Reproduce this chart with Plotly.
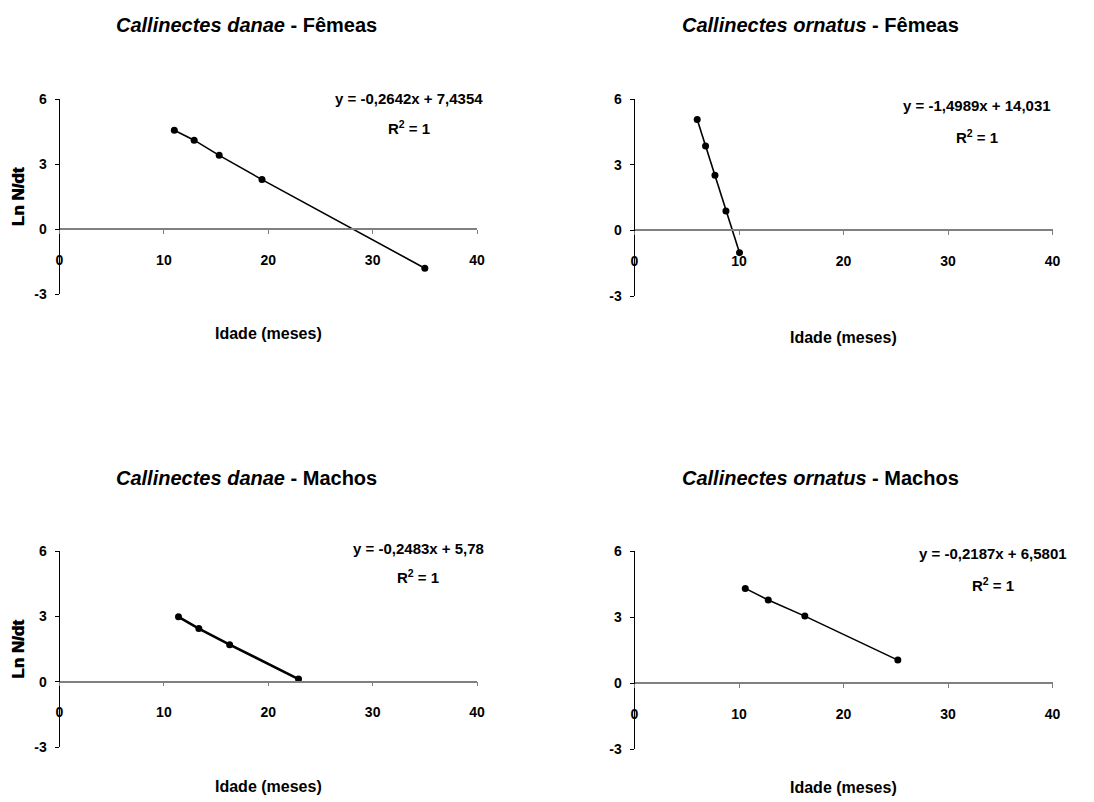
import plotly.graph_objects as go

# ── dados ──────────────────────────────────────────────────────────
danae_f_idade = [11.0, 12.9, 15.3, 19.4, 35.0]
danae_f_ln = [4.56, 4.10, 3.40, 2.28, -1.81]

ornatus_f_idade = [6.0, 6.8, 7.7, 8.75, 10.05]
ornatus_f_ln = [5.06, 3.85, 2.52, 0.88, -1.02]

danae_m_idade = [11.4, 13.35, 16.3, 22.9]
danae_m_ln = [2.98, 2.44, 1.70, 0.12]

ornatus_m_idade = [10.6, 12.8, 16.3, 25.2]
ornatus_m_ln = [4.30, 3.77, 3.04, 1.04]

titulos = [
    ("Callinectes danae", "Fêmeas"),
    ("Callinectes ornatus", "Fêmeas"),
    ("Callinectes danae", "Machos"),
    ("Callinectes ornatus", "Machos"),
]
equacoes = [
    "y = -0,2642x + 7,4354",
    "y = -1,4989x + 14,031",
    "y = -0,2483x + 5,78",
    "y = -0,2187x + 6,5801",
]
x_ticks = [0, 10, 20, 30, 40]
x_labels = ["0", "10", "20", "30", "40"]
y_ticks = [-3, 0, 3, 6]
y_labels = ["-3", "0", "3", "6"]

# a página tem margem de 8 px no body
OFF = 8
W, H = 1094 - OFF, 802 - OFF
FONT = "Liberation Sans, Arial, sans-serif"


def px(x):
    return (x - OFF) / W


def py(y):
    return 1 - (y - OFF) / H


# posições dos painéis em pixels: (x=0, x=40, y=6, y=-3)
paineis = [
    (59.5, 477, 99, 294),
    (634.5, 1052.5, 99, 296),
    (59.5, 477, 551, 747),
    (634.5, 1052.5, 551, 749),
]
# (título x, título y, eq x, eq y, R2 y, xlabel x, xlabel y)
textos = [
    (246, 25, 409, 98, 127, 268, 333),
    (820, 25, 977, 106, 137, 843, 337),
    (246, 478, 418, 548, 576, 268, 786),
    (820, 478, 993, 553, 584, 843, 787),
]

series = [
    (danae_f_idade, danae_f_ln, 1.6),
    (ornatus_f_idade, ornatus_f_ln, 1.6),
    (danae_m_idade, danae_m_ln, 2.6),
    (ornatus_m_idade, ornatus_m_ln, 1.6),
]

fig = go.Figure()
annotations = []
layout = {}
tickfont = dict(family=FONT, size=14, color="black")

for i, ((x0, x40, y6, ym3), (xs, ys, lw), (tx, ty, ex, ey, ry, lx, ly)) in enumerate(
    zip(paineis, series, textos)
):
    n = "" if i == 0 else str(i + 1)
    xa, ya = "x" + n, "y" + n
    fig.add_trace(
        go.Scatter(
            x=xs, y=ys, xaxis=xa, yaxis=ya,
            mode="lines+markers",
            line=dict(color="black", width=lw),
            marker=dict(color="black", size=7),
            showlegend=False,
        )
    )
    y0 = y6 + 6 / 9 * (ym3 - y6)
    layout["xaxis" + n] = dict(
        domain=[px(x0), px(x40)],
        range=[0, 40],
        anchor="free",
        position=py(y0),
        automargin=False,
        tickvals=x_ticks,
        ticktext=[f"<b>{t}</b>" for t in x_labels],
        ticks="outside", ticklen=4, tickwidth=1, tickcolor="#808080",
        showline=True, linecolor="#808080", linewidth=1.5,
        showgrid=False, zeroline=False,
        ticklabelstandoff=14,
        tickfont=tickfont,
    )
    layout["yaxis" + n] = dict(
        domain=[py(ym3), py(y6)],
        range=[-3, 6],
        anchor=xa,
        automargin=False,
        tickvals=y_ticks,
        ticktext=[f"<b>{t}</b>" for t in y_labels],
        ticks="outside", ticklen=4, tickwidth=1, tickcolor="black",
        showline=True, linecolor="black", linewidth=1,
        showgrid=False, zeroline=False,
        ticklabelstandoff=5,
        tickfont=tickfont,
    )
    esp, sexo = titulos[i]
    annotations += [
        dict(text=f"<b><i>{esp}</i> - {sexo}</b>", x=px(tx), y=py(ty),
             font=dict(size=20)),
        dict(text=f"<b>{equacoes[i]}</b>", x=px(ex), y=py(ey), font=dict(size=15)),
        dict(text="<b>R<sup>2</sup> = 1</b>", x=px(ex), y=py(ry), font=dict(size=15)),
        dict(text="<b>Idade (meses)</b>", x=px(lx), y=py(ly), font=dict(size=16)),
        dict(text="<b>Ln N/dt</b>", x=px(18), y=py((y6 + ym3) / 2),
             textangle=-90, font=dict(size=17)),
    ]

for a in annotations:
    a.update(xref="paper", yref="paper", showarrow=False,
             xanchor="center", yanchor="middle")
    a["font"].update(family=FONT, color="black")

fig.update_layout(
    width=W, height=H,
    margin=dict(l=0, r=0, t=0, b=0),
    paper_bgcolor="white", plot_bgcolor="white",
    annotations=annotations,
    **layout,
)

fig.write_html("out.html")
